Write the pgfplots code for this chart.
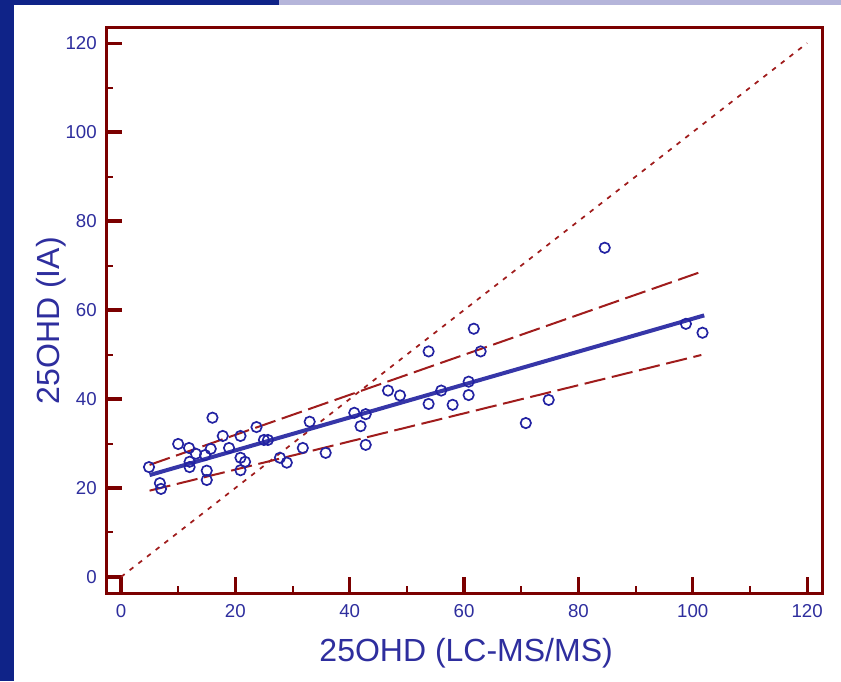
\documentclass[border=0pt]{standalone}
\usepackage{pgfplots}
\pgfplotsset{compat=1.18}
\usepackage{fontspec}
\setmainfont{Liberation Sans}
\definecolor{framecol}{HTML}{7B0000}
\definecolor{txtblue}{HTML}{2E2E9E}
\definecolor{dotblue}{HTML}{2222A2}
\definecolor{lineblue}{HTML}{3636A8}
\definecolor{dashred}{HTML}{A01C1C}
\definecolor{barblue}{HTML}{0F2388}
\definecolor{lav}{HTML}{B5B5DA}
\begin{document}
\begin{tikzpicture}
\fill[white] (0,0) rectangle (630.75pt,510.75pt);
\fill[barblue] (0,0) rectangle (10.5pt,510.75pt);
\fill[barblue] (0,507pt) rectangle (209.25pt,510.75pt);
\fill[lav] (209.25pt,507pt) rectangle (630.75pt,510.75pt);
\begin{axis}[
  at={(79.5pt,66pt)}, anchor=south west,
  scale only axis, width=537pt, height=423.75pt,
  xmin=-2.62, xmax=122.6, ymin=-3.6, ymax=123.4,
  axis line style={framecol, line width=2.25pt},
  xtick={0,20,...,120}, ytick={0,20,...,120},
  minor xtick={10,30,...,110}, minor ytick={10,30,...,110},
  tick align=inside, tick pos=left,
  major tick length=11.7pt, minor tick length=5.5pt,
  major tick style={framecol, line width=2.4pt},
  minor tick style={framecol, line width=1.5pt},
  /pgf/number format/assume math mode=true,
  tick label style={font=\fontsize{14}{16}\selectfont, text=txtblue, inner sep=0pt},
  xticklabel style={anchor=north, yshift=-8.25pt},
  yticklabel style={anchor=east, xshift=-6.75pt},
  xlabel={25OHD (LC-MS/MS)}, ylabel={25OHD (IA)},
  label style={font=\fontsize{24}{28}\selectfont, text=txtblue},
  xlabel style={at={(axis description cs:0.503,-0.1215)}, anchor=base},
  ylabel style={at={(axis description cs:-0.0656,0.482)}, anchor=base},
]
\addplot[dashred, line width=1.3pt, dash pattern=on 3.5pt off 4.75pt] coordinates {(0,0) (120,120)};
\addplot[dashred, line width=1.5pt, dash pattern=on 16pt off 5pt] coordinates {(5,25.2) (101.7,68.7)};
\addplot[dashred, line width=1.5pt, dash pattern=on 16pt off 5pt] coordinates {(5,19.4) (101.5,49.9)};
\addplot[lineblue, line width=3pt] coordinates {(5,22.9) (102,58.8)};
\addplot[only marks, mark=o, mark size=3.9pt, dotblue, mark options={line width=1.25pt}] coordinates {
(4.9,24.7) (6.8,21.1) (7.0,19.8) (10,29.9) (11.9,29) (12,25.9) (12,24.7)
(13.1,27.7) (14.7,27.4) (15,23.9) (15,21.8) (15.7,28.8) (16,35.8) (17.8,31.7)
(18.9,29) (20.9,31.7) (20.9,26.8) (21.7,25.9) (20.9,24) (23.7,33.7) (25,30.8)
(25.7,30.8) (27.8,26.8) (29,25.7) (31.8,29) (33,34.9) (35.8,27.9) (40.8,36.9)
(42.8,36.6) (41.9,33.9) (42.8,29.7) (46.7,41.9) (48.8,40.8) (53.8,50.7)
(53.8,38.9) (56,41.9) (58,38.7) (60.8,43.9) (60.8,40.9) (61.7,55.8) (62.9,50.7)
(70.8,34.6) (74.8,39.8) (84.6,74) (98.8,56.9) (101.7,54.9)
};
\end{axis}
\end{tikzpicture}
\end{document}
